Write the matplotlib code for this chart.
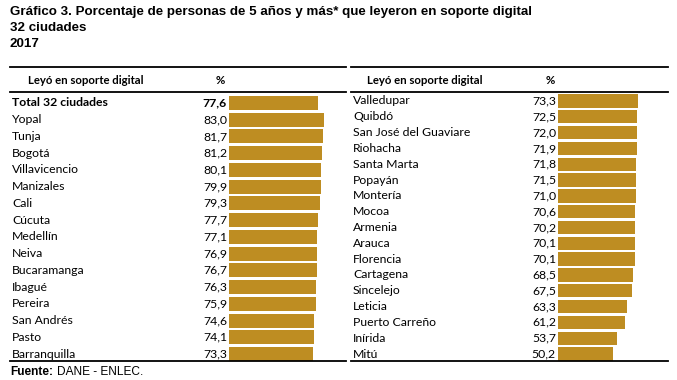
import matplotlib
matplotlib.use("Agg")
import matplotlib.pyplot as plt
from matplotlib.lines import Line2D
from matplotlib.transforms import blended_transform_factory

# data
left_names = ["Total 32 ciudades", "Yopal", "Tunja", "Bogotá", "Villavicencio", "Manizales",
              "Cali", "Cúcuta", "Medellín", "Neiva", "Bucaramanga", "Ibagué", "Pereira",
              "San Andrés", "Pasto", "Barranquilla"]
left_values = [77.6, 83.0, 81.7, 81.2, 80.1, 79.9, 79.3, 77.7, 77.1, 76.9, 76.7, 76.3, 75.9,
               74.6, 74.1, 73.3]
right_names = ["Valledupar", "Quibdó", "San José del Guaviare", "Riohacha", "Santa Marta",
               "Popayán", "Montería", "Mocoa", "Armenia", "Arauca", "Florencia", "Cartagena",
               "Sincelejo", "Leticia", "Puerto Carreño", "Inírida", "Mitú"]
right_values = [73.3, 72.5, 72.0, 71.9, 71.8, 71.5, 71.0, 70.6, 70.2, 70.1, 70.1, 68.5, 67.5,
                63.3, 61.2, 53.7, 50.2]

W, H = 677, 380
BAR = "#BE8D22"
BODY = "Lato"
HEAD = "Liberation Sans"

fig = plt.figure(figsize=(W / 100, H / 100), dpi=100)


def fx(px):
    return px / W


def fy(py):
    return 1 - py / H


def panel(names, values, bar_x0, px_per_unit, row0, row_last, name_x, val_x, hdr_x, pct_x, line_x0, line_x1):
    n = len(names)
    step = (row_last - row0) / (n - 1)
    top = row0 - step / 2
    bottom = row_last + step / 2
    width_px = 100 * px_per_unit
    ax = fig.add_axes([fx(bar_x0), fy(bottom), width_px / W, (bottom - top) / H])
    ax.set_xlim(0, 100)
    ax.set_ylim(n - 0.5, -0.5)
    ax.axis("off")
    ax.barh(range(n), values, height=0.84, color=BAR)
    tr = blended_transform_factory(fig.transFigure, ax.transData)
    for i, (name, v) in enumerate(zip(names, values)):
        bold = name.startswith("Total")
        w = "bold" if bold else "normal"
        ax.text(fx(name_x), i, name, transform=tr, ha="left", va="center",
                fontsize=8.8, family=BODY, fontweight=w, clip_on=False)
        ax.text(fx(val_x), i, f"{v:.1f}".replace(".", ","), transform=tr, ha="right",
                va="center", fontsize=8.8, family=BODY, fontweight=w, clip_on=False)
    # header
    fig.text(fx(hdr_x), fy(81), "Leyó en soporte digital", ha="left", va="center",
             fontsize=8.2, family=BODY, fontweight="bold")
    fig.text(fx(pct_x), fy(81), "%", ha="center", va="center",
             fontsize=8.2, family=BODY, fontweight="bold")
    for y in [67, 92, 361]:
        fig.add_artist(Line2D([fx(line_x0), fx(line_x1)], [fy(y), fy(y)],
                              color="black", lw=1.3, transform=fig.transFigure))


panel(left_names, left_values, 229, 1.146, 103, 354, 12, 227, 28, 220, 10, 346)
panel(right_names, right_values, 558, 1.093, 101, 354, 353, 556, 367, 550, 351, 668)

# title
title_lines = ["Gráfico 3. Porcentaje de personas de 5 años y más* que leyeron en soporte digital",
               "32 ciudades", "2017"]
for i, t in enumerate(title_lines):
    fig.text(fx(10), fy(12 + 16 * i), t, ha="left", va="center", fontsize=9.6,
             family=HEAD, fontweight="bold")

fig.text(fx(10), fy(372), "Fuente:", ha="left", va="center", fontsize=8.6,
         family=HEAD, fontweight="bold")
fig.text(fx(57), fy(372), "DANE - ENLEC.", ha="left", va="center", fontsize=8.6,
         family=HEAD)

fig.savefig("out.png", dpi=100)
